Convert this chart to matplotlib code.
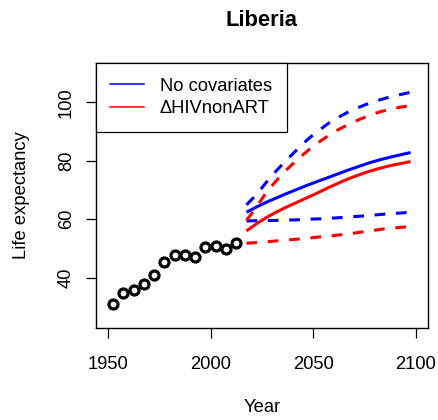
import matplotlib
matplotlib.use("Agg")
import matplotlib.pyplot as plt

plt.rcParams['font.family'] = ['Liberation Sans', 'DejaVu Sans']

obs_years = [1952.5, 1957.5, 1962.5, 1967.5, 1972.5, 1977.5, 1982.5, 1987.5,
             1992.5, 1997.5, 2002.5, 2007.5, 2012.5]
obs_e0 = [30.9, 34.7, 35.8, 37.8, 40.8, 45.3, 47.6, 47.6, 47.2, 50.5, 50.8, 49.8, 52.0]

proj_years = [2017.5, 2022.5, 2027.5, 2032.5, 2037.5, 2042.5, 2047.5, 2052.5, 2057.5,
              2062.5, 2067.5, 2072.5, 2077.5, 2082.5, 2087.5, 2092.5, 2097.5]

nocov_median = [62.4, 64.2, 65.9, 67.4, 68.9, 70.3, 71.7, 73.0, 74.3, 75.6, 76.9,
                78.1, 79.3, 80.3, 81.2, 82.0, 82.8]
nocov_upper = [64.9, 68.5, 72.9, 76.9, 80.6, 84.0, 87.4, 90.2, 92.8, 94.9, 96.8,
               98.3, 99.7, 100.8, 101.8, 102.6, 103.4]
nocov_lower = [59.4, 59.5, 59.5, 59.6, 59.7, 59.8, 60.0, 60.1, 60.3, 60.5, 60.8,
               61.0, 61.3, 61.6, 61.9, 62.1, 62.4]

hiv_median = [56.0, 58.5, 60.7, 62.6, 64.3, 65.9, 67.5, 69.1, 70.8, 72.4, 73.9,
              75.2, 76.4, 77.4, 78.3, 79.0, 79.7]
hiv_upper = [59.6, 64.3, 69.5, 73.5, 77.2, 80.5, 83.5, 86.2, 88.6, 90.7, 92.5,
             94.1, 95.5, 96.7, 97.6, 98.3, 98.8]
hiv_lower = [51.8, 52.0, 52.3, 52.6, 52.9, 53.2, 53.5, 53.9, 54.2, 54.6, 55.0,
             55.5, 56.0, 56.5, 56.9, 57.2, 57.5]

x_ticks = [1950, 2000, 2050, 2100]
y_ticks = [40, 60, 80, 100]

fs = 13.2

fig = plt.figure(figsize=(4.39, 4.20), dpi=100)
ax = fig.add_axes([0.218, 0.219, 0.757, 0.631])

lw = 2.2
dash = (3.5, 3.5)
ax.plot(proj_years, nocov_median, color='blue', lw=lw, solid_capstyle='butt')
ax.plot(proj_years, hiv_median, color='red', lw=lw, solid_capstyle='butt')
for vals, c in [(nocov_upper, 'blue'), (nocov_lower, 'blue'), (hiv_upper, 'red'), (hiv_lower, 'red')]:
    ax.plot(proj_years, vals, color=c, lw=lw, dashes=dash, dash_capstyle='butt')

ax.plot(obs_years, obs_e0, linestyle='none', marker='o', ms=6.5, mfc='none',
        mec='black', mew=2.3)

ax.set_xlim(1944, 2106)
ax.set_ylim(22.8, 113.4)
ax.set_xticks(x_ticks)
ax.set_yticks(y_ticks)
ax.tick_params(axis='both', direction='out', length=7, width=0.9, labelsize=fs, colors='black')
ax.tick_params(axis='x', pad=13)
ax.tick_params(axis='y', pad=8)
for lab in ax.get_yticklabels():
    lab.set_rotation(90)
    lab.set_va('center')
for s in ax.spines.values():
    s.set_linewidth(1.0)
    s.set_color('black')

ax.set_xlabel('Year', fontsize=fs, labelpad=19)
ax.set_ylabel('Life expectancy', fontsize=fs, labelpad=20)
ax.set_title('Liberia', fontsize=fs * 1.2, fontweight='bold', pad=27)

leg = ax.legend(handles=[plt.Line2D([], [], color='blue', lw=1.1),
                         plt.Line2D([], [], color='red', lw=1.1)],
                labels=['No covariates', '\u0394HIVnonART'],
                loc='upper left', bbox_to_anchor=(0, 1), borderaxespad=0,
                fontsize=fs, frameon=True, fancybox=False, framealpha=1,
                edgecolor='black', handlelength=1.85, handletextpad=0.85,
                borderpad=0.8, labelspacing=0.3)
leg.get_frame().set_linewidth(0.9)

fig.savefig('out.png', dpi=100)
